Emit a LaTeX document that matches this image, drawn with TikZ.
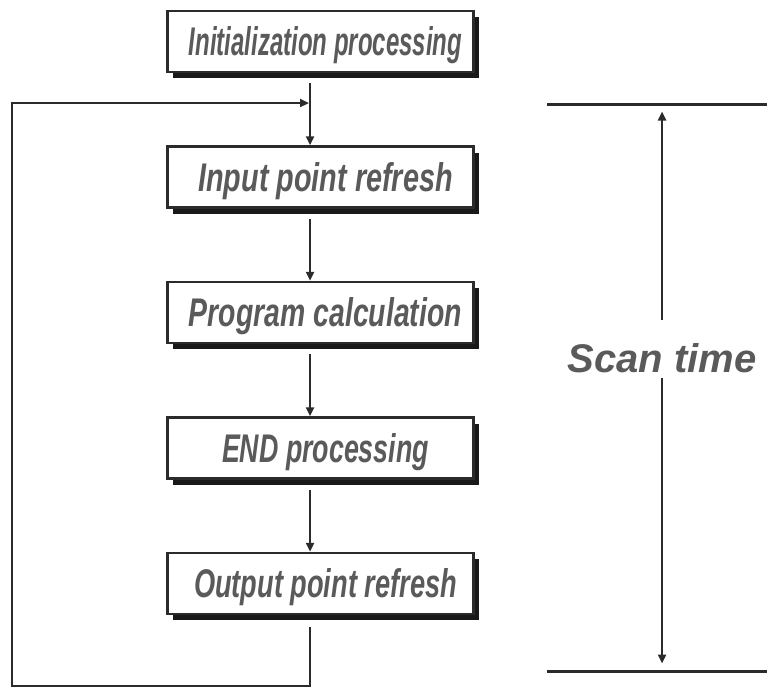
\documentclass[tikz,border=0pt]{standalone}
\usepackage{fontspec}
\usepackage{graphicx}
\usepackage{tikz}
\usetikzlibrary{arrows.meta,positioning,shadows}
\setmainfont{Liberation Sans}
\definecolor{cInk}{HTML}{2b2b2b}
\definecolor{cText}{HTML}{5a5a5a}
\tikzset{
  stage/.style={draw=cInk,line width=2.5pt,fill=white,minimum width=306pt,minimum height=61pt,
    inner sep=0pt,text height=28pt,text depth=0pt,
    font=\fontsize{40}{44}\selectfont\bfseries\itshape,text=cText,
    drop shadow={shadow xshift=5pt,shadow yshift=-6pt,fill=black!90,opacity=1}},
  flow/.style={-{Triangle[length=9pt,width=8pt]},line width=2.8pt,cInk},
  bar/.style={line width=3pt,cInk},
}
\newcommand{\squeeze}[2]{\hspace*{10pt}\scalebox{#1}[1]{#2}}

\begin{document}
\begin{tikzpicture}[x=1pt,y=-1pt]
  \useasboundingbox (0,0) rectangle (767,688);
  \node[stage] (init) at (320.5,41.5) {\squeeze{0.60}{Initialization processing}};
  \node[stage,below=72pt of init] (input) {\squeeze{0.72}{Input point refresh}};
  \node[stage,below=72pt of input] (prog) {\squeeze{0.71}{Program calculation}};
  \node[stage,below=72pt of prog] (endp) {\squeeze{0.67}{END processing}};
  \node[stage,below=72pt of endp] (output) {\squeeze{0.68}{Output point refresh}};
  \coordinate (ret) at (310,103);
  \coordinate (corner) at (12,686);
  \foreach \a/\b in {init/input,input/prog,prog/endp,endp/output}
    \draw[flow,shorten <=10pt] (\a.south -| ret) -- (\b.north -| ret);
  \draw[flow,shorten <=12pt,shorten >=1pt] (output.south -| ret) |- (corner) |- (ret);
  \coordinate (ttop) at (547,104);
  \coordinate (tbot) at (547,671);
  \draw[bar] (ttop) -- ++(220,0);
  \draw[bar] (tbot) -- ++(220,0);
  \node[font=\fontsize{40}{44}\selectfont\bfseries\itshape,text=cText,inner sep=0pt,anchor=base] (scan) at (662,372) {Scan time};
  \draw[flow,shorten <=23pt,shorten >=7.5pt] (scan.north) -- (scan.north |- ttop);
  \draw[flow,shorten <=5pt,shorten >=7.5pt] (scan.south) -- (scan.south |- tbot);
\end{tikzpicture}
\end{document}
